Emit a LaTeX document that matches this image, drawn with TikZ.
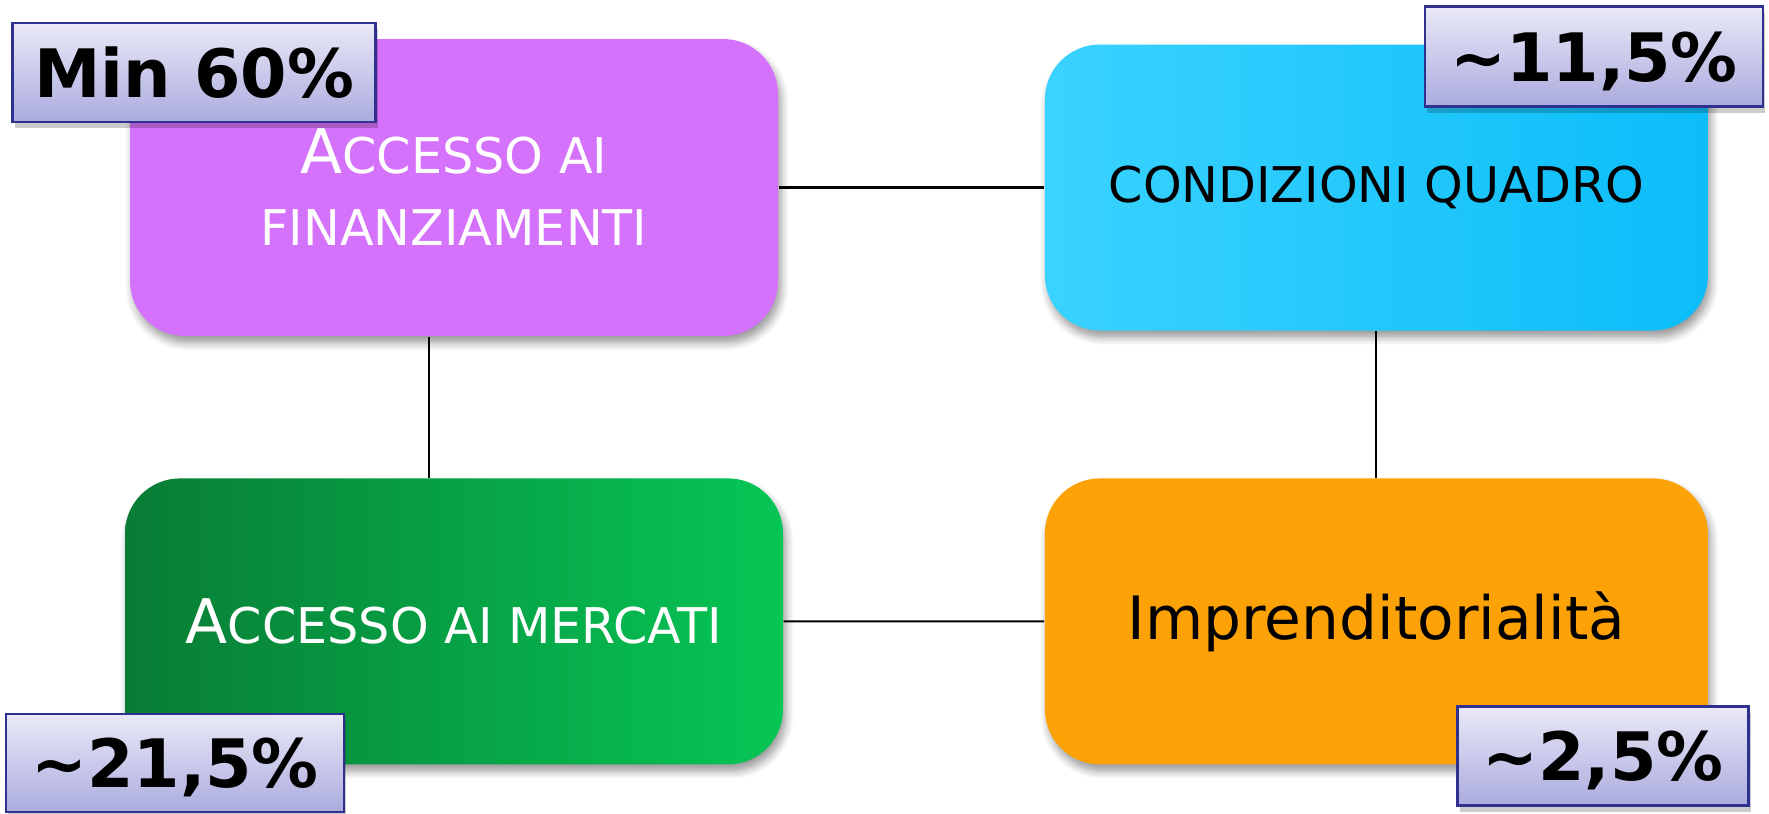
\documentclass[tikz,border=0pt]{standalone}
\usepackage{fontspec}
\setmainfont{DejaVu Sans}
\usetikzlibrary{positioning,shadows,shadows.blur}

\definecolor{finviolet}{HTML}{D572FB}
\definecolor{condleft}{HTML}{3AD3FF}
\definecolor{condright}{HTML}{0BBDF9}
\definecolor{mktleft}{HTML}{087C35}
\definecolor{mktright}{HTML}{06C655}
\definecolor{imprange}{HTML}{FCA206}
\definecolor{tagtop}{HTML}{E9E9F7}
\definecolor{tagbottom}{HTML}{ABABDF}
\definecolor{tagborder}{HTML}{30308E}

% first letter of the small caps titles
\newcommand{\initcap}[1]{{\fontsize{17.5}{20.5}\selectfont #1}}

\begin{document}
\begin{tikzpicture}[
    node distance=1.41cm and 2.655cm,
    box/.style={rectangle, rounded corners=0.55cm, minimum height=2.86cm, align=center, inner sep=0pt,
        font=\fontsize{14}{20.5}\selectfont,
        blur shadow={shadow xshift=0.03cm, shadow yshift=-0.07cm, shadow blur steps=6, shadow opacity=40}},
    tag/.style={draw=tagborder, line width=0.8pt, rectangle, minimum height=0.99cm, inner sep=0pt, text depth=0pt,
        top color=tagtop, bottom color=tagbottom, font=\fontsize{19}{22}\selectfont\bfseries,
        drop shadow={shadow xshift=0.02cm, shadow yshift=-0.06cm, fill=black, opacity=0.2}},
    link/.style={draw=black, line width=0.6pt}
]
    \useasboundingbox (0,0) rectangle (17.69,8.13);

    % the four areas
    \node[box, minimum width=6.48cm, minimum height=2.97cm, fill=finviolet, text=white] (fin) at (4.54,6.255)
        {\initcap{A}CCESSO AI\\FINANZIAMENTI};
    \node[box, right=of fin, minimum width=6.63cm, left color=condleft, right color=condright] (cond)
        {CONDIZIONI QUADRO};
    \node[box, below=of fin, minimum width=6.58cm, left color=mktleft, right color=mktright, text=white] (mkt)
        {\initcap{A}CCESSO AI MERCATI};
    \node[box, below=1.465cm of cond, minimum width=6.63cm, fill=imprange, font=\fontsize{17}{20}\selectfont] (impr)
        {Imprenditorialità};

    \draw[link] (fin.east) -- (fin.east -| cond.west);
    \draw[link] ([xshift=-0.25cm]fin.south) -- ([xshift=-0.25cm]fin.south |- mkt.north);
    \draw[link] (cond.south) -- (impr.north);
    \draw[link] (mkt.east) -- (impr.west);

    % shares
    \node[tag, minimum width=3.63cm] (p60) at (1.94,7.405) {Min 60\%};
    \node[tag, minimum width=3.38cm, minimum height=1cm] (p115) at (15.94,7.563) {\textasciitilde 11,5\%};
    \node[tag, minimum width=3.38cm, minimum height=0.98cm] (p215) at (1.75,0.50) {\textasciitilde 21,5\%};
    \node[tag, minimum width=2.91cm] (p25) at (16.03,0.57) {\textasciitilde 2,5\%};

\end{tikzpicture}
\end{document}
